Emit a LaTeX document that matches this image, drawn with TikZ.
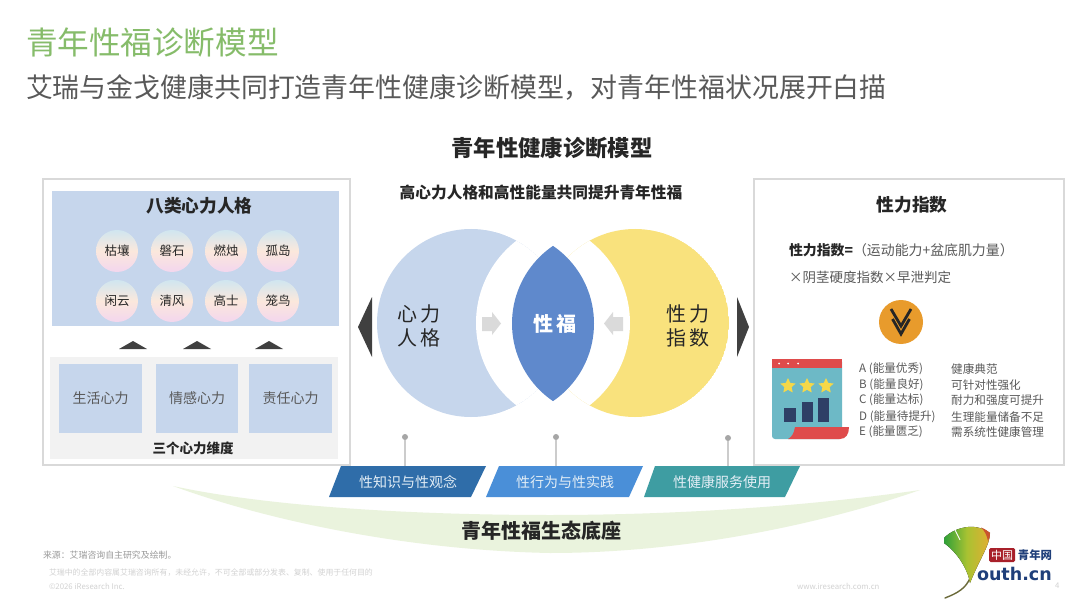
\documentclass[tikz,border=0pt]{standalone}
\usepackage{fontspec}
\setmainfont{Noto Sans CJK SC}
\newfontfamily\logofont{DejaVu Sans}
\usetikzlibrary{shapes.geometric}
\definecolor{ttlgreen}{HTML}{86BC6A}
\definecolor{subgray}{HTML}{595959}
\definecolor{ink}{HTML}{262626}
\definecolor{panelblue}{HTML}{C6D6EC}
\definecolor{boxline}{HTML}{D9D9D9}
\definecolor{softgray}{HTML}{F2F2F2}
\definecolor{darktri}{HTML}{404040}
\definecolor{lensblue}{HTML}{5F89CC}
\definecolor{moonyellow}{HTML}{F9E27D}
\definecolor{arrowgray}{HTML}{DADADA}
\definecolor{pingray}{HTML}{A6A6A6}
\definecolor{pinline}{HTML}{CCCCCC}
\definecolor{baraa}{HTML}{2F6DA9}
\definecolor{barbb}{HTML}{4A8FD8}
\definecolor{barcc}{HTML}{3E9DA2}
\definecolor{barink}{HTML}{E3EEF6}
\definecolor{swoosh}{HTML}{EAF3DD}
\definecolor{orangeb}{HTML}{E89B2C}
\definecolor{iconteal}{HTML}{6DB9C6}
\definecolor{iconred}{HTML}{DF4B4B}
\definecolor{iconnavy}{HTML}{2E3F66}
\definecolor{iconstar}{HTML}{F5D848}
\definecolor{footgray}{HTML}{9A9A9A}
\definecolor{footpale}{HTML}{D2D2D2}
\definecolor{logored}{HTML}{A8202A}
\definecolor{lognavy}{HTML}{1F3F7A}
\definecolor{shadetop}{HTML}{D0E6F0}
\definecolor{shadebot}{HTML}{F3D6EE}
\definecolor{shademid}{HTML}{FBE8DC}
\definecolor{leafa}{HTML}{2FA038}
\definecolor{leafb}{HTML}{A9C232}
\definecolor{leafc}{HTML}{E3AE32}
\definecolor{leaftip}{HTML}{C9542E}
\definecolor{stemc}{HTML}{6B6A3A}
\newcommand{\fsz}[1]{\fontsize{#1}{#1}\selectfont}
\tikzset{
  txt/.style={inner sep=0pt,outer sep=0pt,text=ink},
  frame/.style={draw=boxline,line width=1.6pt,fill=white},
  persona/.style={circle,minimum size=42pt,inner sep=0pt,text=ink,font=\fsz{12.5},
     top color=shadetop,bottom color=shadebot,middle color=shademid,draw=none},
  dim/.style={fill=panelblue,draw=none,inner sep=0pt,text=subgray,font=\fsz{14}},
  uptri/.style={fill=darktri,draw=none},
  pindot/.style={circle,fill=pingray,draw=none,minimum size=6pt,inner sep=0pt},
  pinln/.style={draw=pinline,line width=1.1pt},
  bartxt/.style={inner sep=0pt,text=barink,font=\fsz{14}},
  rowtxt/.style={inner sep=0pt,text=subgray,font=\fsz{11.6},anchor=west},
  istar/.style={star,star points=5,star point ratio=2.1,fill=iconstar,draw=none,minimum size=16pt,inner sep=0pt},
  vee/.style={draw=ink,line width=2.8pt,line join=miter},
}
\begin{document}
\begin{tikzpicture}[x=1pt,y=-1pt]
\useasboundingbox (0,0) rectangle (1080,607);
\fill[white] (0,0) rectangle (1080,607);
% titles
\node[txt,anchor=west,text=ttlgreen,font=\fsz{31.6}] (title) at (26,43) {青年性福诊断模型};
\node[txt,anchor=west,text=subgray,font=\fsz{26.9}] (subtitle) at (26,88) {艾瑞与金戈健康共同打造青年性健康诊断模型，对青年性福状况展开白描};
\node[txt,font=\bfseries\fsz{22.3}] (head) at (552,148) {青年性健康诊断模型};
\node[txt,font=\bfseries\fsz{15.7}] (sub) at (541,193) {高心力人格和高性能量共同提升青年性福};
% swoosh
\fill[swoosh] (173,486) .. controls (260,505) and (400,515) .. (550,515) .. controls (680,515) and (810,506) .. (920,490)
  .. controls (840,518) and (700,553) .. (550,553) .. controls (400,550) and (260,518) .. (173,486) -- cycle;
\node[txt,font=\bfseries\fsz{20}] (base) at (541,531) {青年性福生态底座};
% left panel
\draw[frame] (43,179) rectangle (350,465);
\fill[panelblue] (52,191) rectangle (339,326);
\node[txt,font=\bfseries\fsz{17.7}] (eight) at (199.5,206) {八类心力人格};
\node[persona] (c1) at (117,251) {枯壤};
\node[persona] (c2) at (172,251) {磐石};
\node[persona] (c3) at (226,251) {燃烛};
\node[persona] (c4) at (278,251) {孤岛};
\node[persona] (c5) at (117,301) {闲云};
\node[persona] (c6) at (172,301) {清风};
\node[persona] (c7) at (226,301) {高士};
\node[persona] (c8) at (278,301) {笼鸟};
\fill[uptri] (119,349) -- (133,341) -- (147,349) -- cycle;
\fill[uptri] (183,349) -- (197,341) -- (211,349) -- cycle;
\fill[uptri] (255,349) -- (269,341) -- (283,349) -- cycle;
\fill[softgray] (50,357) rectangle (338,459);
\node[dim,minimum width=83pt,minimum height=69pt] (d1) at (100.5,398.5) {生活心力};
\node[dim,minimum width=82pt,minimum height=69pt] (d2) at (197,398.5) {情感心力};
\node[dim,minimum width=83pt,minimum height=69pt] (d3) at (290.5,398.5) {责任心力};
\node[txt,font=\bfseries\fsz{13.5}] (three) at (193,448) {三个心力维度};
% moons
\begin{scope}
  \clip (471,323) circle[radius=94pt];
  \fill[panelblue] (471,323) circle[radius=94pt];
  \fill[white] (580,323) circle[radius=104pt];
\end{scope}
\begin{scope}
  \clip (635,323) circle[radius=94pt];
  \fill[moonyellow] (635,323) circle[radius=94pt];
  \fill[white] (526,323) circle[radius=104pt];
\end{scope}
\begin{scope}
  \clip (606,323.5) circle[radius=94pt];
  \fill[lensblue] (500,323.5) circle[radius=94pt];
\end{scope}
\node[txt,font=\fsz{20},align=center] (mind) at (418.5,326) {心\hspace{3pt}力\\[4pt]人\hspace{3pt}格};
\node[txt,font=\fsz{20},align=center] (sexi) at (687.5,326) {性\hspace{3pt}力\\[4pt]指\hspace{3pt}数};
\node[txt,text=white,font=\bfseries\fsz{20}] (happy) at (555,324) {性\hspace{3pt}福};
\fill[arrowgray] (482,317) -- (492,317) -- (492,312) -- (501,323.5) -- (492,335) -- (492,331) -- (482,331) -- cycle;
\fill[arrowgray] (623,317) -- (613,317) -- (613,312) -- (604,323.5) -- (613,335) -- (613,331) -- (623,331) -- cycle;
\fill[darktri] (358,327) -- (372,297) -- (372,357) -- cycle;
\fill[darktri] (749,327) -- (737,297) -- (737,357) -- cycle;
% right panel
\draw[frame] (754,179) rectangle (1064,465);
\node[txt,font=\bfseries\fsz{17.7}] (sxtitle) at (912,205) {性力指数};
\node[txt,anchor=west,text=subgray,font=\fsz{13.9}] (f1) at (789,250) {{\bfseries\color{ink}性力指数=}（运动能力+盆底肌力量）};
\node[txt,anchor=west,text=subgray,font=\fsz{13.5}] (f2) at (789,277) {×阴茎硬度指数×早泄判定};
\node[circle,fill=orangeb,draw=none,minimum size=44pt,inner sep=0pt] (orb) at (901,322) {};
\draw[vee] (891,309) -- (901,326) -- (911,309);
\draw[vee] (892.5,319) -- (901,334) -- (909.5,319);
% icon
\fill[iconteal,rounded corners=3pt] (772,359) rectangle (842,439);
\fill[iconred] (772,359) rectangle (842,368);
\fill[white] (779,363.5) circle[radius=1pt] (788,363.5) circle[radius=1pt] (798,363.5) circle[radius=1pt];
\node[istar] (s1) at (788,386) {};
\node[istar] (s2) at (807,386) {};
\node[istar] (s3) at (826,386) {};
\fill[iconnavy] (784,408) rectangle (796,422);
\fill[iconnavy] (802,402) rectangle (813,422);
\fill[iconnavy] (818,398) rectangle (829,422);
\fill[iconred] (795,427) -- (849,427) .. controls (849,434) and (846,439) .. (840,439) -- (788,439) .. controls (792,437) and (794,433) .. (795,427) -- cycle;
\node[rowtxt] (a1) at (859,369) {A (能量优秀)};
\node[rowtxt] (a2) at (859,385) {B (能量良好)};
\node[rowtxt] (a3) at (859,400) {C (能量达标)};
\node[rowtxt] (a4) at (859,417) {D (能量待提升)};
\node[rowtxt] (a5) at (859,432) {E (能量匮乏)};
\node[rowtxt] (b1) at (951,369) {健康典范};
\node[rowtxt] (b2) at (951,385) {可针对性强化};
\node[rowtxt] (b3) at (951,400) {耐力和强度可提升};
\node[rowtxt] (b4) at (951,417) {生理能量储备不足};
\node[rowtxt] (b5) at (951,432) {需系统性健康管理};
% pins
\node[pindot] (p1) at (405,437) {};
\node[pindot] (p2) at (556,437) {};
\node[pindot] (p3) at (728,438) {};
\coordinate (e1) at (405,467);
\coordinate (e2) at (556,467);
\coordinate (e3) at (728,467);
\draw[pinln] (p1) -- (e1);
\draw[pinln] (p2) -- (e2);
\draw[pinln] (p3) -- (e3);
% bars
\fill[baraa] (341,466) -- (486,466) -- (471,497) -- (329,497) -- cycle;
\fill[barbb] (499,466) -- (643,466) -- (629,497) -- (486,497) -- cycle;
\fill[barcc] (655,466) -- (800,466) -- (785,497) -- (644,497) -- cycle;
\node[bartxt] (t1) at (408,482) {性知识与性观念};
\node[bartxt] (t2) at (565,482) {性行为与性实践};
\node[bartxt] (t3) at (722,482) {性健康服务使用};
% footer
\node[txt,anchor=west,text=footgray,font=\fsz{8.9}] (src) at (43,555) {来源：艾瑞咨询自主研究及绘制。};
\node[txt,anchor=west,text=footpale,font=\fsz{7.9}] (law) at (49,573) {艾瑞中的全部内容属艾瑞咨询所有，未经允许，不可全部或部分发表、复制、使用于任何目的};
\node[txt,anchor=west,text=footpale,font=\fsz{7.8}] (copy) at (49,586) {©2026 iResearch Inc.};
\node[txt,anchor=west,text=footpale,font=\fsz{7.8}] (web) at (797,586) {www.iresearch.com.cn};
\node[txt,anchor=west,text=footpale,font=\fsz{7.8}] (pg) at (1055,586) {4};
% logo
\draw[stemc,line width=1.4pt,line cap=round] (970,578) .. controls (966,588) and (958,593) .. (945,598);
\fill[left color=leafa,right color=leafc,middle color=leafb]
  (944,538) .. controls (950,532) and (958,528) .. (968,527) .. controls (976,526) and (985,529) .. (990,533)
  .. controls (990,545) and (979,560) .. (970,583) .. controls (968,570) and (958,553) .. (944,543) -- cycle;
\draw[white,line width=.9pt] (955,530) -- (960,540);
\fill[leaftip] (981,527.5) .. controls (985,529) and (988,531) .. (990,533) .. controls (990,537) and (989,539) .. (988,541) .. controls (987,536) and (985,531) .. (981,527.5) -- cycle;
\fill[logored,rounded corners=1.5pt] (989,548) rectangle (1015,562);
\node[txt,text=white,font=\fsz{11}] (cn) at (1002,555) {中国};
\node[txt,text=lognavy,font=\bfseries\fsz{11.4}] (qn) at (1035,555) {青年网};
\node[txt,anchor=west,text=lognavy,font=\logofont\bfseries\fsz{17.5}] (youth) at (977,574) {outh.cn};
\end{tikzpicture}
\end{document}
